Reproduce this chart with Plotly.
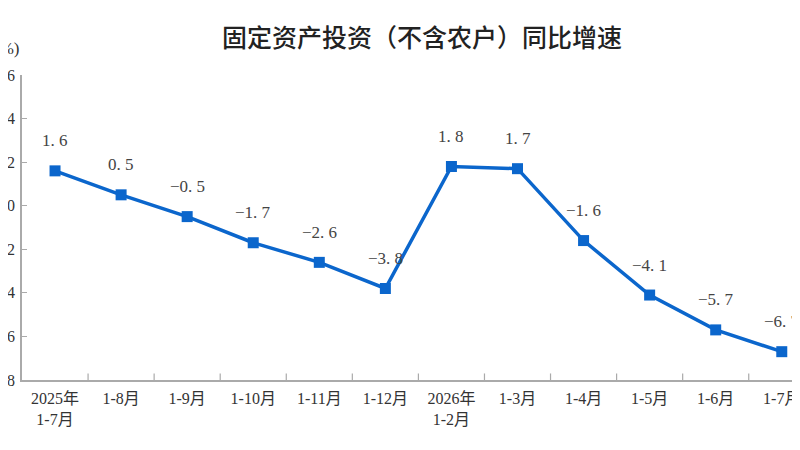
import plotly.graph_objects as go

# 固定资产投资（不含农户）同比增速，单位 %
periods = ["2025年<br>1-7月", "1-8月", "1-9月", "1-10月", "1-11月", "1-12月",
           "2026年<br>1-2月", "1-3月", "1-4月", "1-5月", "1-6月", "1-7月"]
growth = [1.6, 0.5, -0.5, -1.7, -2.6, -3.8, 1.8, 1.7, -1.6, -4.1, -5.7, -6.7]
y_ticks = [-8, -6, -4, -2, 0, 2, 4, 6]

blue = "#0b66cc"
serif = "Liberation Serif, DejaVu Serif, Noto Sans CJK SC"

idx = list(range(len(periods)))

fig = go.Figure()
fig.add_trace(go.Scatter(
    x=idx, y=growth, mode="lines+markers",
    line=dict(color=blue, width=3.5),
    marker=dict(symbol="square", size=11, color=blue),
    hoverinfo="skip",
))

# value labels above the points
for i, v in zip(idx, growth):
    fig.add_annotation(
        x=i, y=v, text=f"{v:.1f}".replace(".", ". ").replace("-", "−"),
        showarrow=False, yshift=30, xanchor="center", yanchor="middle",
        font=dict(family=serif, size=17, color="#444"),
    )

fig.add_annotation(
    xref="paper", yref="paper", x=-0.001, y=1.088, xanchor="right", yanchor="middle",
    text="(%)", showarrow=False, font=dict(family=serif, size=17, color="#333"),
)

# the page adds an 8px body margin, so margins are shifted by that amount
fig.update_layout(
    width=800, height=450,
    margin=dict(l=14, r=8, t=67, b=78),
    paper_bgcolor="white", plot_bgcolor="white",
    showlegend=False,
    title=dict(
        text="固定资产投资（不含农户）同比增速",
        x=414 / 800, xanchor="center", y=1 - 30 / 450, yanchor="middle",
        font=dict(family="Noto Sans CJK SC", size=25, color="#222", weight=500),
    ),
)
fig.update_xaxes(
    range=[-0.5, 11.17], tickmode="array", tickvals=idx, ticktext=periods,
    showline=True, linecolor="#aaa", linewidth=1.5, showgrid=False, zeroline=False,
    ticklabeloverflow="allow", ticklabelstandoff=3,
    tickfont=dict(family=serif, size=16, color="#333"),
)
fig.update_yaxes(
    range=[-8, 6], tickmode="array", tickvals=y_ticks, ticktext=[str(t) for t in y_ticks],
    showline=True, linecolor="#aaa", linewidth=1.5, showgrid=False, zeroline=False,
    ticks="inside", ticklen=5, tickcolor="#aaa", automargin=False,
    ticklabelstandoff=2, ticklabeloverflow="allow",
    tickfont=dict(family=serif, size=16, color="#333"),
)

# vertical tick marks between categories on the x axis
fig.add_trace(go.Scatter(
    x=[i + 0.5 for i in idx[:-1] for _ in range(3)],
    y=[v for _ in idx[:-1] for v in (-8, -7.7, None)],
    mode="lines", line=dict(color="#aaa", width=1.2), hoverinfo="skip",
))

fig.write_html("out.html")
